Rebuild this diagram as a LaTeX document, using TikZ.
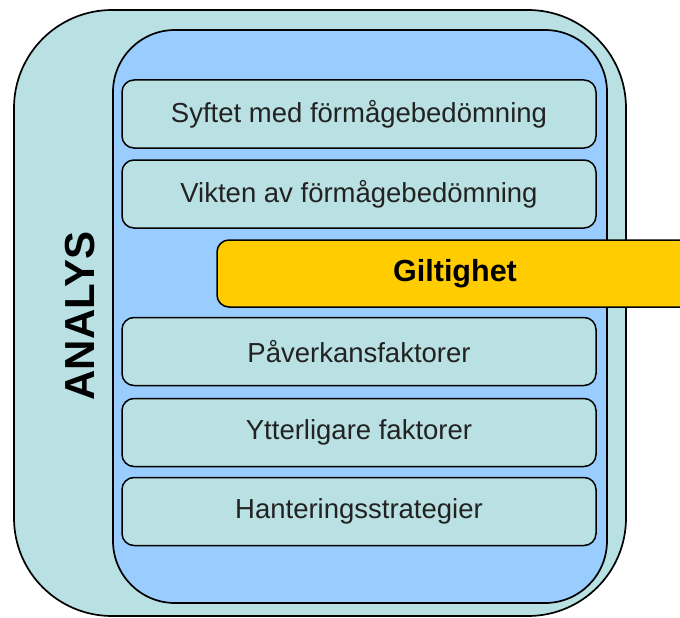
\documentclass[tikz,border=0pt]{standalone}
\usepackage{fontspec}
\setmainfont{Liberation Sans}
\usetikzlibrary{positioning}
\definecolor{tealbg}{RGB}{185,224,226}
\definecolor{skyblue}{RGB}{153,204,255}
\definecolor{goldbar}{RGB}{255,204,0}
\definecolor{textgray}{RGB}{34,34,34}
\tikzset{
  frame/.style={draw=black, line width=1.7pt, inner sep=0pt},
  item/.style={frame, line width=1.5pt, fill=tealbg, rounded corners=12pt,
    minimum width=474pt, minimum height=68pt, text=textgray,
    font=\fontsize{27.5}{31}\selectfont},
}
\begin{document}
\begin{tikzpicture}[x=1pt,y=-1pt]
\clip (0,0) rectangle (680,618);
% background panels
\node[frame, fill=tealbg, rounded corners=98pt, minimum width=612pt, minimum height=606pt] (outer) at (320,313) {};
\node[frame, fill=skyblue, rounded corners=62pt, minimum width=494pt, minimum height=573pt] (inner) at (360,316.5) {};
\node[rotate=90, font=\fontsize{42}{46}\selectfont\bfseries] (analys) at (80,316) {ANALYS};
% steps
\node[item] (syfte) at (359,114) {Syftet med förmågebedömning};
\node[item] (vikt) at (359,194) {Vikten av förmågebedömning};
\node[item] (paverkan) at (359,351.5) {Påverkansfaktorer};
\node[item] (ytterligare) at (359,432.5) {Ytterligare faktorer};
\node[item] (hantering) at (359,511.5) {Hanteringsstrategier};
% highlighted step
\node[item, fill=goldbar, text=black, minimum width=476pt, minimum height=67pt,
  font=\fontsize{30.5}{34}\selectfont\bfseries] (giltighet) at (455,273.5) {Giltighet};
\end{tikzpicture}
\end{document}
